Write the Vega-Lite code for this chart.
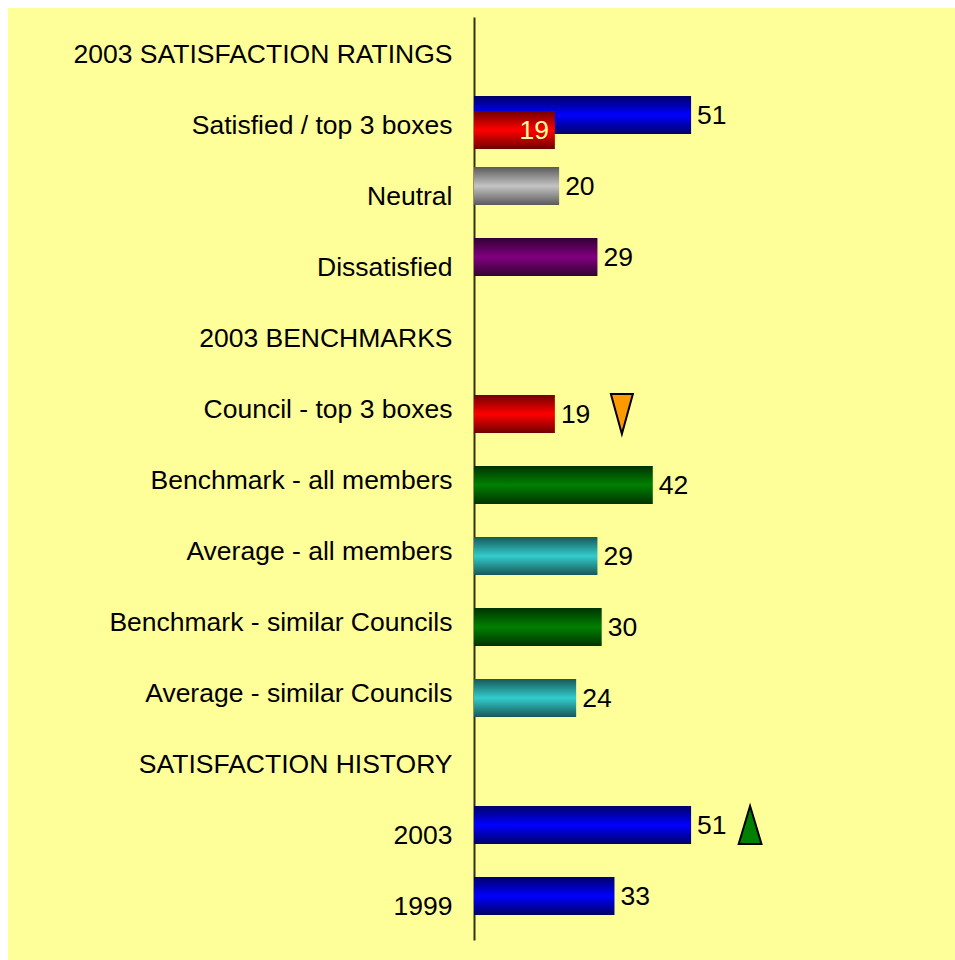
{
  "$schema": "https://vega.github.io/schema/vega-lite/v6.json",
  "width": 947,
  "height": 952,
  "autosize": {"type": "none"},
  "padding": {"left": 8, "top": 8, "right": 0, "bottom": 0},
  "background": "white",
  "config": {
    "font": "Liberation Sans",
    "view": {"fill": "#FFFF99", "stroke": null}
  },
  "data": {
    "values": [
      {"category": "Satisfied / top 3 boxes", "series": "A", "kind": "satisfied", "value": 51},
      {"category": "Satisfied / top 3 boxes", "series": "B", "kind": "council", "value": 19},
      {"category": "Neutral", "series": "A", "kind": "neutral", "value": 20},
      {"category": "Dissatisfied", "series": "A", "kind": "dissatisfied", "value": 29},
      {"category": "Council - top 3 boxes", "series": "B", "kind": "council", "value": 19, "trend": "down"},
      {"category": "Benchmark - all members", "series": "B", "kind": "benchmark", "value": 42},
      {"category": "Average - all members", "series": "B", "kind": "average", "value": 29},
      {"category": "Benchmark - similar Councils", "series": "B", "kind": "benchmark", "value": 30},
      {"category": "Average - similar Councils", "series": "B", "kind": "average", "value": 24},
      {"category": "2003", "series": "A", "kind": "history", "value": 51, "trend": "up"},
      {"category": "1999", "series": "A", "kind": "history", "value": 33}
    ]
  },
  "encoding": {
    "y": {
      "field": "category",
      "type": "nominal",
      "sort": null,
      "scale": {
        "domain": ["2003 SATISFACTION RATINGS", "Satisfied / top 3 boxes", "Neutral", "Dissatisfied", "2003 BENCHMARKS", "Council - top 3 boxes", "Benchmark - all members", "Average - all members", "Benchmark - similar Councils", "Average - similar Councils", "SATISFACTION HISTORY", "2003", "1999"],
        "range": [9, 932],
        "paddingInner": 0,
        "paddingOuter": 0
      },
      "axis": {
        "title": null,
        "offset": -466,
        "domain": true,
        "domainColor": "#333300",
        "domainWidth": 2,
        "ticks": false,
        "grid": false,
        "labelFont": "Liberation Sans",
        "labelFontSize": 26.5,
        "labelColor": "black",
        "labelPadding": 22,
        "labelLimit": 460,
        "labelOffset": 2
      }
    },
    "yOffset": {
      "field": "series",
      "type": "nominal",
      "scale": {"domain": ["A", "B"], "range": [19.5, 49.5], "paddingInner": 0, "paddingOuter": 0}
    },
    "x": {
      "field": "value",
      "type": "quantitative",
      "scale": {"domain": [0, 113], "range": [466, 947], "nice": false},
      "axis": null
    }
  },
  "layer": [
    {
      "transform": [{"filter": "datum.kind === 'satisfied' || datum.kind === 'history'"}],
      "mark": {"type": "bar", "height": 38, "color": {"gradient": "linear", "x1": 0, "y1": 0, "x2": 0, "y2": 1, "stops": [{"offset": 0, "color": "#000066"}, {"offset": 0.5, "color": "#0000FF"}, {"offset": 1, "color": "#000066"}]}}
    },
    {
      "transform": [{"filter": "datum.kind === 'council'"}],
      "mark": {"type": "bar", "height": 38, "color": {"gradient": "linear", "x1": 0, "y1": 0, "x2": 0, "y2": 1, "stops": [{"offset": 0, "color": "#700000"}, {"offset": 0.5, "color": "#FF0000"}, {"offset": 1, "color": "#700000"}]}}
    },
    {
      "transform": [{"filter": "datum.kind === 'neutral'"}],
      "mark": {"type": "bar", "height": 38, "color": {"gradient": "linear", "x1": 0, "y1": 0, "x2": 0, "y2": 1, "stops": [{"offset": 0, "color": "#5A5A5A"}, {"offset": 0.5, "color": "#C4C4C4"}, {"offset": 1, "color": "#5A5A5A"}]}}
    },
    {
      "transform": [{"filter": "datum.kind === 'dissatisfied'"}],
      "mark": {"type": "bar", "height": 38, "color": {"gradient": "linear", "x1": 0, "y1": 0, "x2": 0, "y2": 1, "stops": [{"offset": 0, "color": "#330033"}, {"offset": 0.5, "color": "#800080"}, {"offset": 1, "color": "#330033"}]}}
    },
    {
      "transform": [{"filter": "datum.kind === 'benchmark'"}],
      "mark": {"type": "bar", "height": 38, "color": {"gradient": "linear", "x1": 0, "y1": 0, "x2": 0, "y2": 1, "stops": [{"offset": 0, "color": "#003300"}, {"offset": 0.5, "color": "#008000"}, {"offset": 1, "color": "#003300"}]}}
    },
    {
      "transform": [{"filter": "datum.kind === 'average'"}],
      "mark": {"type": "bar", "height": 38, "color": {"gradient": "linear", "x1": 0, "y1": 0, "x2": 0, "y2": 1, "stops": [{"offset": 0, "color": "#185858"}, {"offset": 0.5, "color": "#33CCCC"}, {"offset": 1, "color": "#185858"}]}}
    },
    {
      "transform": [{"filter": "!(datum.kind === 'council' && datum.category === 'Satisfied / top 3 boxes')"}],
      "mark": {"type": "text", "align": "left", "baseline": "middle", "dx": 6, "dy": 1, "fontSize": 26.5, "color": "black", "font": "Liberation Sans"},
      "encoding": {"text": {"field": "value", "type": "quantitative"}}
    },
    {
      "transform": [{"filter": "datum.kind === 'council' && datum.category === 'Satisfied / top 3 boxes'"}],
      "mark": {"type": "text", "align": "right", "baseline": "middle", "dx": -6, "dy": 1, "fontSize": 26.5, "color": "#FFFF99", "font": "Liberation Sans"},
      "encoding": {"text": {"field": "value", "type": "quantitative"}}
    },
    {
      "transform": [{"filter": "datum.trend === 'down'"}],
      "mark": {"type": "point", "filled": true, "shape": "M-0.55,-1L0.55,-1L0,1Z", "size": 1600, "fill": "#FF9900", "stroke": "black", "strokeWidth": 2, "opacity": 1},
      "encoding": {"xOffset": {"value": 67}}
    },
    {
      "transform": [{"filter": "datum.trend === 'up'"}],
      "mark": {"type": "point", "filled": true, "shape": "M0,-1L0.6,1L-0.6,1Z", "size": 1444, "fill": "#008000", "stroke": "black", "strokeWidth": 2, "opacity": 1},
      "encoding": {"xOffset": {"value": 59}}
    }
  ]
}
